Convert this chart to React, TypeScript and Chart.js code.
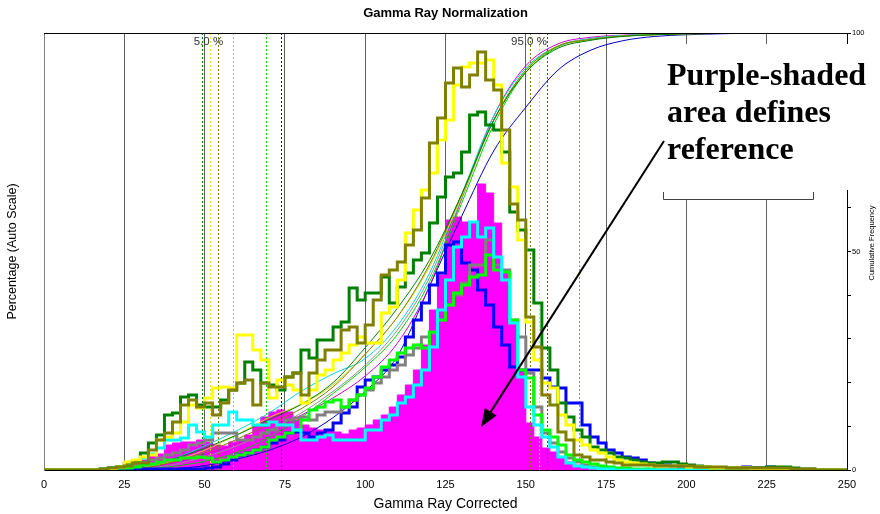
import React, { useEffect, useRef } from 'react';
import { Chart, registerables } from 'chart.js';

Chart.register(...registerables);

// ---------- text ----------
const TITLE = 'Gamma Ray Normalization';
const X_TITLE = 'Gamma Ray Corrected';
const Y_TITLE = 'Percentage (Auto Scale)';
const Y2_TITLE = 'Cumulative Frequency';
const NOTE_LINES = ['Purple-shaded', 'area defines', 'reference'];
const P5_LABEL = '5.0 %';
const P95_LABEL = '95.0 %';

// ---------- axes ----------
const X_MIN = 0;
const X_MAX = 250;
const X_STEP = 25;
const Y_MAX = 4.37; // percentage axis (auto scale)
const Y2_MAX = 100;
const Y2_STEP = 10;

// ---------- histograms (percent per 2.5-unit bin, bins start at 15) ----------
const BIN_START = 15;
const BIN_WIDTH = 2.5;

const REF_MAGENTA = [
  0, 0, 0, 0.01, 0.03, 0.06, 0.10, 0.14, 0.16, 0.25,
  0.27, 0.28, 0.28, 0.30, 0.28, 0.25, 0.24, 0.28, 0.30, 0.35,
  0.45, 0.53, 0.58, 0.60, 0.58, 0.50, 0.45, 0.42, 0.40, 0.40,
  0.38, 0.36, 0.40, 0.42, 0.45, 0.50, 0.55, 0.63, 0.75, 0.85,
  1.00, 1.25, 1.60, 1.95, 2.50, 2.53, 2.48, 2.47, 2.86, 2.77,
  2.47, 2.00, 1.48, 1.00, 0.47, 0.33, 0.22, 0.18, 0.13, 0.08,
  0.05, 0.03, 0.02, 0.01, 0, 0, 0, 0, 0, 0,
  0, 0, 0, 0, 0, 0, 0, 0, 0, 0,
  0, 0, 0, 0, 0, 0, 0, 0, 0, 0,
];
const WELL_CYAN = [
  0, 0.01, 0.02, 0.03, 0.05, 0.08, 0.12, 0.16, 0.22, 0.30,
  0.30, 0.32, 0.45, 0.38, 0.33, 0.45, 0.45, 0.58, 0.50, 0.50,
  0.45, 0.45, 0.48, 0.45, 0.45, 0.40, 0.30, 0.30, 0.33, 0.35,
  0.30, 0.30, 0.30, 0.30, 0.40, 0.40, 0.50, 0.55, 0.67, 0.73,
  0.85, 1.00, 1.23, 1.60, 1.90, 2.23, 2.33, 2.48, 2.33, 2.42,
  2.13, 1.90, 1.47, 0.93, 0.63, 0.45, 0.33, 0.23, 0.13, 0.07,
  0.04, 0.03, 0.02, 0.01, 0.01, 0, 0, 0, 0, 0,
  0, 0, 0, 0, 0, 0, 0, 0, 0, 0,
  0, 0, 0, 0, 0, 0, 0, 0, 0, 0,
];
const WELL_BLUE = [
  0, 0, 0, 0, 0, 0.01, 0.01, 0.01, 0.01, 0.01,
  0.01, 0.01, 0.01, 0.01, 0.02, 0.03, 0.06, 0.10, 0.15, 0.17,
  0.20, 0.23, 0.27, 0.30, 0.37, 0.38, 0.37, 0.33, 0.37, 0.40,
  0.47, 0.57, 0.63, 0.83, 0.90, 0.93, 1.00, 1.05, 1.13, 1.33,
  1.50, 1.67, 1.85, 1.97, 2.25, 2.28, 2.07, 2.00, 1.80, 1.65,
  1.43, 1.25, 1.03, 1.00, 1.00, 1.00, 0.92, 0.83, 0.82, 0.67,
  0.67, 0.45, 0.33, 0.27, 0.20, 0.17, 0.13, 0.12, 0.10, 0.07,
  0.06, 0.05, 0.04, 0.03, 0.03, 0.02, 0.02, 0.02, 0.02, 0.02,
  0.02, 0.03, 0.02, 0.02, 0.03, 0.02, 0.01, 0, 0, 0,
];
const WELL_LIME = [
  0, 0, 0.01, 0.02, 0.02, 0.03, 0.05, 0.06, 0.08, 0.10,
  0.10, 0.12, 0.12, 0.13, 0.12, 0.08, 0.10, 0.13, 0.15, 0.17,
  0.20, 0.23, 0.30, 0.33, 0.37, 0.40, 0.50, 0.60, 0.63, 0.68,
  0.70, 0.63, 0.70, 0.75, 0.82, 0.93, 1.03, 1.10, 1.17, 1.22,
  1.25, 1.22, 1.38, 1.50, 1.65, 1.77, 1.85, 1.93, 1.95, 2.15,
  2.00, 1.98, 1.50, 1.00, 0.92, 0.55, 0.40, 0.33, 0.25, 0.15,
  0.10, 0.08, 0.06, 0.04, 0.03, 0.02, 0.02, 0.01, 0.01, 0.01,
  0, 0, 0, 0, 0, 0, 0, 0, 0, 0,
  0, 0, 0, 0, 0, 0, 0, 0, 0, 0,
];
const WELL_GRAY = [
  0, 0, 0.01, 0.02, 0.03, 0.05, 0.08, 0.10, 0.12, 0.15,
  0.17, 0.20, 0.25, 0.27, 0.30, 0.37, 0.37, 0.37, 0.30, 0.30,
  0.33, 0.37, 0.40, 0.45, 0.50, 0.52, 0.53, 0.50, 0.55, 0.58,
  0.58, 0.63, 0.70, 0.75, 0.80, 0.87, 0.93, 1.00, 1.05, 1.15,
  1.22, 1.33, 1.37, 1.50, 1.65, 1.75, 1.87, 2.05, 2.05, 2.30,
  2.05, 2.00, 1.50, 1.33, 0.97, 0.63, 0.37, 0.27, 0.18, 0.12,
  0.08, 0.05, 0.03, 0.02, 0.01, 0.01, 0, 0, 0, 0,
  0, 0, 0, 0, 0, 0, 0, 0, 0, 0,
  0, 0, 0, 0, 0, 0, 0, 0, 0, 0,
];
const WELL_DARKGREEN = [
  0, 0.01, 0.02, 0.03, 0.07, 0.08, 0.17, 0.27, 0.35, 0.55,
  0.57, 0.73, 0.75, 0.65, 0.63, 0.63, 0.70, 0.80, 0.87, 1.08,
  1.00, 0.87, 0.85, 0.80, 0.93, 0.97, 1.20, 1.12, 1.30, 1.30,
  1.43, 1.48, 1.82, 1.70, 1.77, 1.77, 1.93, 1.67, 1.83, 1.97,
  2.10, 2.17, 2.47, 2.73, 2.93, 2.97, 3.18, 3.55, 3.58, 3.45,
  3.40, 3.18, 2.58, 2.40, 2.20, 1.67, 1.22, 1.00, 0.67, 0.53,
  0.40, 0.33, 0.23, 0.20, 0.17, 0.13, 0.12, 0.10, 0.08, 0.07,
  0.07, 0.08, 0.08, 0.06, 0.05, 0.04, 0.03, 0.02, 0.02, 0.02,
  0.02, 0.02, 0.02, 0.02, 0.03, 0.03, 0.03, 0.02, 0.01, 0.01,
];
const WELL_YELLOW = [
  0, 0, 0.01, 0.03, 0.08, 0.10, 0.13, 0.15, 0.30, 0.33,
  0.37, 0.48, 0.65, 0.62, 0.72, 0.82, 0.83, 0.82, 1.35, 1.35,
  1.20, 1.10, 0.72, 0.90, 0.85, 0.80, 0.67, 0.80, 0.95, 1.00,
  1.10, 1.17, 1.25, 1.33, 1.27, 1.27, 1.57, 1.63, 1.90, 2.37,
  2.60, 2.80, 2.97, 3.30, 3.50, 3.85, 4.03, 4.07, 4.07, 4.10,
  3.85, 3.07, 2.83, 2.30, 1.48, 1.10, 0.87, 0.82, 0.55, 0.45,
  0.30, 0.25, 0.20, 0.17, 0.13, 0.10, 0.08, 0.07, 0.06, 0.05,
  0.04, 0.04, 0.04, 0.04, 0.03, 0.03, 0.03, 0.02, 0.02, 0.02,
  0.02, 0.02, 0.01, 0.01, 0.01, 0.01, 0.01, 0, 0, 0,
];
const WELL_OLIVE = [
  0, 0.01, 0.02, 0.03, 0.04, 0.07, 0.07, 0.20, 0.30, 0.37,
  0.48, 0.65, 0.70, 0.63, 0.67, 0.55, 0.67, 0.80, 0.87, 0.90,
  0.65, 0.87, 0.83, 0.83, 0.93, 0.97, 0.75, 0.97, 1.10, 1.20,
  1.20, 1.40, 1.43, 1.27, 1.45, 1.70, 1.95, 2.00, 2.08, 2.25,
  2.40, 2.72, 3.27, 3.52, 3.87, 4.02, 3.83, 3.95, 4.18, 3.90,
  3.80, 3.40, 2.66, 2.50, 1.53, 1.23, 0.75, 0.65, 0.38, 0.30,
  0.15, 0.13, 0.10, 0.10, 0.08, 0.07, 0.05, 0.05, 0.05, 0.05,
  0.04, 0.04, 0.04, 0.04, 0.04, 0.03, 0.03, 0.03, 0.03, 0.02,
  0.02, 0.02, 0.02, 0.02, 0.02, 0.02, 0.02, 0.01, 0.01, 0.01,
];

// ---------- cumulative frequency curves (percent, right axis) ----------
const CUM_X = [20, 30, 40, 50, 60, 70, 80, 90, 100, 110, 120, 130, 140, 150, 160, 170, 180, 190, 200, 210, 220];
const CUM_DARKGREEN = [0, 0.8, 2.5, 5, 8, 11.5, 15, 20, 28, 37, 48, 63, 80, 91, 96.5, 98.3, 99.2, 99.6, 99.8, 99.9, 100];
const CUM_OLIVE = [0, 0.4, 1.8, 4, 7, 10.5, 14, 19, 26.5, 35, 47, 63, 80, 91.5, 97, 98.5, 99.3, 99.6, 99.8, 99.9, 100];
const CUM_YELLOW = [0, 0.5, 2, 4.5, 8, 12, 15, 19.5, 26.5, 35, 46.5, 62.5, 80, 91.5, 97, 98.5, 99.3, 99.6, 99.8, 99.9, 100];
const CUM_CYAN = [0, 0.6, 2.5, 5.5, 9, 13, 18, 22, 25.5, 33, 45, 63, 81, 92, 97, 98.7, 99.4, 99.7, 99.9, 100, 100];
const CUM_GRAY = [0, 0.3, 1.2, 3, 5.5, 9, 13, 18, 24, 32, 44, 62, 80, 91.5, 97, 98.7, 99.4, 99.7, 99.9, 100, 100];
const CUM_LIME = [0, 0.2, 0.8, 2, 4, 7.5, 12, 17.5, 23.5, 31, 43, 61, 79, 91, 96.8, 98.6, 99.3, 99.7, 99.9, 100, 100];
const CUM_MAGENTA = [0, 0.3, 1.5, 3.5, 6, 9, 12.5, 16.5, 21.5, 29, 42, 62, 81, 92.5, 97.5, 99, 99.5, 99.8, 99.9, 100, 100];
const CUM_BLUE = [0, 0, 0.3, 1, 2.5, 4.5, 7.5, 12, 18, 26, 42, 58, 73, 83, 91.5, 96, 98.2, 99.2, 99.6, 99.8, 100];

// ---------- percentile markers ----------
const P5_VALUES = [49.1, 51.7, 54.1, 58.7, 69.1, 73.8];
const P5_COLORS = ['#008000', '#e8e800', '#808000', '#b0b0b0', '#00e000', '#000080'];
const P95_VALUES = [151.3, 154.0, 156.5, 166.6];
const P95_COLORS = ['#808000', '#e8e800', '#008000', '#8080ff'];
const P5_LABEL_AT = 51.2;
const P95_LABEL_AT = 151.0;

const COLORS = {
  magenta: '#ff00ff',
  cyan: '#00ffff',
  blue: '#0000ff',
  lime: '#00ff00',
  gray: '#808080',
  darkgreen: '#008000',
  yellow: '#ffff00',
  olive: '#808000',
};

function histPoints(vals: number[]) {
  const pts: { x: number; y: number }[] = [{ x: X_MIN, y: 0 }];
  vals.forEach((v, i) => pts.push({ x: BIN_START + i * BIN_WIDTH, y: v }));
  pts.push({ x: BIN_START + vals.length * BIN_WIDTH, y: 0 });
  pts.push({ x: X_MAX, y: 0 });
  return pts;
}

function cumPoints(vals: number[]) {
  return CUM_X.map((x, i) => ({ x, y: vals[i] }));
}

const SANS = '"Liberation Sans", Arial, sans-serif';

const overlayPlugin = {
  id: 'gammaOverlay',
  afterDatasetDraw(chart: any, args: any) {
    const ds = chart.data.datasets[args.index];
    if (ds.label !== 'Reference') return;
    const { ctx, chartArea } = chart;
    const xs = chart.scales.x;
    ctx.save();
    ctx.lineWidth = 1;
    ctx.setLineDash([2, 2]);
    const drawSet = (vals: number[], cols: string[]) => {
      vals.forEach((v, i) => {
        const px = Math.round(xs.getPixelForValue(v)) + 0.5;
        ctx.strokeStyle = cols[i];
        ctx.beginPath();
        ctx.moveTo(px, chartArea.top);
        ctx.lineTo(px, chartArea.bottom);
        ctx.stroke();
      });
    };
    drawSet(P5_VALUES, P5_COLORS);
    drawSet(P95_VALUES, P95_COLORS);
    ctx.restore();
  },
  afterDraw(chart: any) {
    const { ctx, chartArea } = chart;
    const xs = chart.scales.x;
    ctx.save();
    // top border
    ctx.strokeStyle = '#000';
    ctx.lineWidth = 1;
    ctx.beginPath();
    ctx.moveTo(chartArea.left, Math.round(chartArea.top) + 0.5);
    ctx.lineTo(chartArea.right, Math.round(chartArea.top) + 0.5);
    ctx.stroke();

    // percentile labels
    ctx.fillStyle = '#333';
    ctx.font = `11.5px ${SANS}`;
    ctx.textAlign = 'center';
    ctx.textBaseline = 'alphabetic';
    ctx.fillText(P5_LABEL, xs.getPixelForValue(P5_LABEL_AT), chartArea.top + 12);
    ctx.fillText(P95_LABEL, xs.getPixelForValue(P95_LABEL_AT), chartArea.top + 12);

    // annotation box
    ctx.fillStyle = '#ffffff';
    ctx.fillRect(657, 44, 223, 146);
    ctx.fillRect(657, 190, 157, 9);
    ctx.strokeStyle = '#404040';
    ctx.beginPath();
    ctx.moveTo(663.5, 192);
    ctx.lineTo(663.5, 199.5);
    ctx.lineTo(813.5, 199.5);
    ctx.lineTo(813.5, 192);
    ctx.stroke();

    ctx.fillStyle = '#000';
    ctx.font = 'bold 32px "Liberation Serif", "Times New Roman", serif';
    ctx.textAlign = 'left';
    ctx.textBaseline = 'alphabetic';
    const baselines = [85, 122, 159];
    NOTE_LINES.forEach((t, i) => ctx.fillText(t, 667, baselines[i]));

    // arrow
    const sx = 664, sy = 141, tx = 481, ty = 427;
    const ang = Math.atan2(ty - sy, tx - sx);
    const headLen = 18, headHalf = 7;
    const bx = tx - headLen * Math.cos(ang), by = ty - headLen * Math.sin(ang);
    ctx.strokeStyle = '#000';
    ctx.lineWidth = 2;
    ctx.beginPath();
    ctx.moveTo(sx, sy);
    ctx.lineTo(bx, by);
    ctx.stroke();
    ctx.beginPath();
    ctx.moveTo(tx, ty);
    ctx.lineTo(bx + headHalf * Math.sin(ang), by - headHalf * Math.cos(ang));
    ctx.lineTo(bx - headHalf * Math.sin(ang), by + headHalf * Math.cos(ang));
    ctx.closePath();
    ctx.fillStyle = '#000';
    ctx.fill();

    // right axis title (reads bottom-to-top)
    ctx.translate(872, 243);
    ctx.rotate(-Math.PI / 2);
    ctx.font = `7.5px ${SANS}`;
    ctx.textAlign = 'center';
    ctx.textBaseline = 'middle';
    ctx.fillStyle = '#000';
    ctx.fillText(Y2_TITLE, 0, 0);
    ctx.restore();
  },
};

export default function App() {
  const ref = useRef<HTMLCanvasElement | null>(null);

  useEffect(() => {
    if (!ref.current) return;
    Chart.defaults.font.family = SANS;

    const hist = (label: string, vals: number[], color: string, order: number) => ({
      label,
      data: histPoints(vals),
      borderColor: color,
      backgroundColor: color,
      borderWidth: 3,
      stepped: 'before',
      pointRadius: 0,
      fill: false,
      yAxisID: 'y',
      order,
      borderJoinStyle: 'miter',
    });
    const cum = (label: string, vals: number[], color: string) => ({
      label,
      data: cumPoints(vals),
      borderColor: color,
      borderWidth: 1,
      pointRadius: 0,
      fill: false,
      cubicInterpolationMode: 'monotone',
      yAxisID: 'y2',
      order: 25,
    });

    const datasets: any[] = [
      {
        label: 'Reference',
        data: histPoints(REF_MAGENTA),
        borderColor: COLORS.magenta,
        backgroundColor: COLORS.magenta,
        borderWidth: 1,
        stepped: 'before',
        pointRadius: 0,
        fill: 'origin',
        yAxisID: 'y',
        order: 30,
      },
      cum('Cum dark green', CUM_DARKGREEN, '#008000'),
      cum('Cum olive', CUM_OLIVE, '#808000'),
      cum('Cum yellow', CUM_YELLOW, '#d8d800'),
      cum('Cum cyan', CUM_CYAN, '#00d8d8'),
      cum('Cum gray', CUM_GRAY, '#909090'),
      cum('Cum lime', CUM_LIME, '#00d000'),
      cum('Cum magenta', CUM_MAGENTA, '#d000d0'),
      cum('Cum blue', CUM_BLUE, '#0000c0'),
      hist('Well blue', WELL_BLUE, COLORS.blue, 10),
      hist('Well gray', WELL_GRAY, COLORS.gray, 9),
      hist('Well lime', WELL_LIME, COLORS.lime, 8),
      hist('Well cyan', WELL_CYAN, COLORS.cyan, 7),
      hist('Well dark green', WELL_DARKGREEN, COLORS.darkgreen, 6),
      hist('Well yellow', WELL_YELLOW, COLORS.yellow, 5),
      hist('Well olive', WELL_OLIVE, COLORS.olive, 4),
    ];

    const chart = new Chart(ref.current, {
      type: 'line',
      data: { datasets },
      options: {
        animation: false,
        responsive: false,
        devicePixelRatio: 1,
        parsing: true,
        layout: { padding: 0 },
        plugins: {
          legend: { display: false },
          tooltip: { enabled: false },
          title: {
            display: true,
            fullSize: false,
            text: TITLE,
            color: '#000',
            font: { size: 13, weight: 'bold', family: SANS },
            padding: { top: 6, bottom: 11.4 },
          },
        },
        scales: {
          x: {
            type: 'linear',
            min: X_MIN,
            max: X_MAX,
            ticks: {
              stepSize: X_STEP,
              color: '#000',
              font: { size: 11, family: SANS },
              padding: 8,
              maxRotation: 0,
            },
            grid: { color: '#606060', drawTicks: false, lineWidth: 1 },
            border: { color: '#000' },
            title: {
              display: true,
              text: X_TITLE,
              color: '#000',
              font: { size: 14, family: SANS },
              padding: { top: 0, bottom: 1.5 },
            },
            afterFit: (s: any) => {
              s.height = 44;
            },
          },
          y: {
            position: 'left',
            min: 0,
            max: Y_MAX,
            ticks: { display: false },
            grid: { display: false, drawTicks: false },
            border: { display: true, color: '#808080' },
            title: {
              display: true,
              text: Y_TITLE,
              color: '#000',
              font: { size: 12.5, family: SANS },
              padding: { top: 5, bottom: 0 },
            },
            afterFit: (s: any) => {
              s.width = 44;
            },
          },
          y2: {
            position: 'right',
            min: 0,
            max: Y2_MAX,
            ticks: {
              stepSize: Y2_STEP,
              color: '#000',
              font: { size: 7.5, family: SANS },
              padding: 1,
              callback: (v: any) => (Number(v) % 50 === 0 ? String(v) : ''),
            },
            grid: { drawOnChartArea: false, tickLength: 4, color: '#000' },
            border: { color: '#000' },
            afterFit: (s: any) => {
              s.width = 33;
            },
          },
        },
      },
      plugins: [overlayPlugin],
    } as any);

    return () => chart.destroy();
  }, []);

  return (
    <div style={{ position: 'fixed', left: 0, top: 0, width: 880, height: 514, background: '#fff' }}>
      <canvas ref={ref} width={880} height={514} style={{ width: 880, height: 514, display: 'block' }} />
    </div>
  );
}
